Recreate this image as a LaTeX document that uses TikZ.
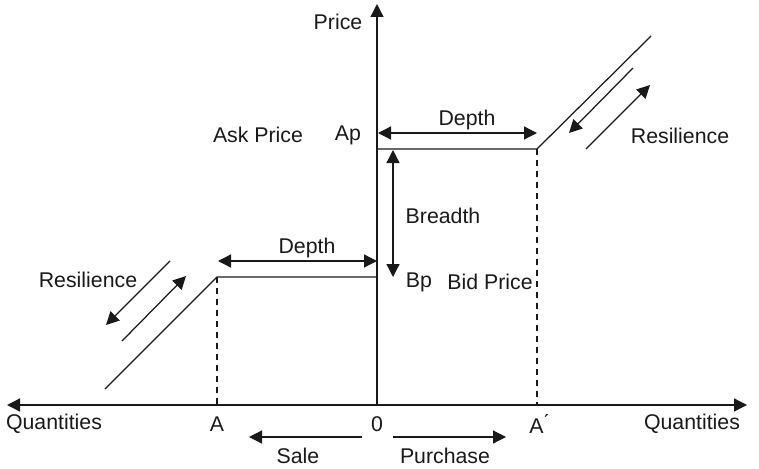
\documentclass[tikz,border=0pt]{standalone}
\usepackage{fontspec}
\setmainfont{Liberation Sans}
\usetikzlibrary{arrows.meta}
\begin{document}
\begin{tikzpicture}[x=1pt,y=-1pt,
  line/.style={line width=1.25pt, black!90},
  tip/.tip={Triangle[length=13pt,width=13pt]},
  arr/.style={line, -tip},
  darr/.style={line, tip-tip},
  guide/.style={line width=1.1pt, black!90, dash pattern=on 6pt off 5pt},
  lab/.style={inner sep=0pt, font=\fontsize{21.3}{25}\selectfont, text=black!90}]
\useasboundingbox (0,0) rectangle (759,468);
% key points
\coordinate (O) at (377,405);
\coordinate (ytop) at (377,4);
\coordinate (xl) at (7,405);
\coordinate (xr) at (747,405);
\coordinate (A) at (217,405);
\coordinate (Ap) at (537,405);
\coordinate (L1) at (217,277);
\coordinate (L0) at (377,277);
\coordinate (Lend) at (105,389);
\coordinate (U0) at (377,149);
\coordinate (U1) at (537,149);
\coordinate (Uend) at (651,36);
% axes
\draw[arr] (O) -- (ytop);
\draw[arr] (O) -- (xl);
\draw[arr] (O) -- (xr);
% dashed guides
\draw[guide] (L1) -- (A);
\draw[guide] (U1) -- (Ap);
% supply/demand lines
\draw[line] (Lend) -- (L1) -- (L0);
\draw[line] (U0) -- (U1) -- (Uend);
% depth arrows
\coordinate (dl0) at (218,261); \coordinate (dl1) at (377,261);
\draw[darr] (dl0) -- (dl1);
\coordinate (du0) at (378,133); \coordinate (du1) at (537,133);
\draw[darr] (du0) -- (du1);
% breadth
\coordinate (b0) at (393,150); \coordinate (b1) at (393,277);
\draw[darr] (b0) -- (b1);
% resilience right
\coordinate (rr1s) at (633,68); \coordinate (rr1e) at (569,133);
\draw[arr] (rr1s) -- (rr1e);
\coordinate (rr2s) at (586,149); \coordinate (rr2e) at (650,85);
\draw[arr] (rr2s) -- (rr2e);
% resilience left
\coordinate (rl1s) at (170,261); \coordinate (rl1e) at (106,325);
\draw[arr] (rl1s) -- (rl1e);
\coordinate (rl2s) at (122,341); \coordinate (rl2e) at (186,276);
\draw[arr] (rl2s) -- (rl2e);
% sale / purchase
\coordinate (s0) at (362,437); \coordinate (s1) at (249,437);
\draw[arr] (s0) -- (s1);
\coordinate (p0) at (393,437); \coordinate (p1) at (506,437);
\draw[arr] (p0) -- (p1);
% labels
\node[lab] (tprice) at (338,22) {Price};
\node[lab] (task) at (258,135) {Ask Price};
\node[lab] (tap) at (348,135) {Ap};
\node[lab] (tdu) at (467,120) {Depth};
\node[lab] (tdl) at (307,248) {Depth};
\node[lab] (tbr) at (443,216) {Breadth};
\node[lab] (tbp) at (419,282) {Bp};
\node[lab] (tbid) at (490,282) {Bid Price};
\node[lab] (trr) at (680,136) {Resilience};
\node[lab] (trl) at (88,280) {Resilience};
\node[lab] (tql) at (54,424) {Quantities};
\node[lab] (tqr) at (692,424) {Quantities};
\node[lab] (tA) at (217,424) {A};
\node[lab] (t0) at (377,424) {0};
\node[lab] (tAp) at (539,424) {A\kern-1pt\'{}};
\node[lab] (tsale) at (298,456) {Sale};
\node[lab] (tpur) at (445,456) {Purchase};
\end{tikzpicture}
\end{document}
